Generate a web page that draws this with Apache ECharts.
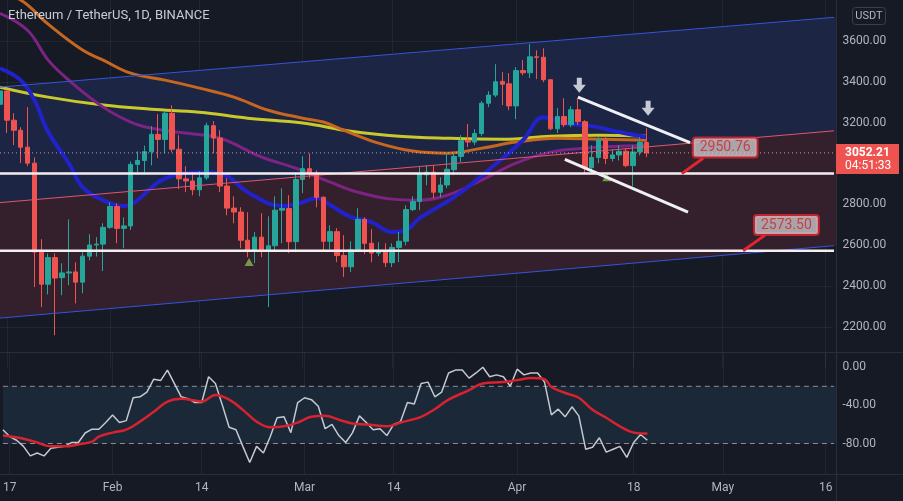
<!DOCTYPE html>
<html>
<head>
<meta charset="utf-8">
<script src="https://cdn.jsdelivr.net/npm/echarts@6/dist/echarts.min.js"></script>
<style>
html,body{margin:0;padding:0;background:#161a25;}
#chart{width:903px;height:501px;}
</style>
</head>
<body>
<div id="chart"></div>
<script>
// days on the axis: Jan 16 2022 .. May 17 2022 (candles stop at Apr 20)
const startDay = Date.UTC(2022, 0, 16)
const dayCount = 122
const dates = []
for (let i = 0; i < dayCount; i++) {
    dates.push(new Date(startDay + i * 86400000).toISOString().slice(0, 10))
}
const tickLabels = {
    '2022-01-17': '17', '2022-02-01': 'Feb', '2022-02-14': '14', '2022-03-01': 'Mar',
    '2022-03-14': '14', '2022-04-01': 'Apr', '2022-04-18': '18', '2022-05-01': 'May', '2022-05-16': '16'
}

// [open, close, low, high]
const candles = [
    [3290,3355,3260,3380],[3355,3212,3150,3362],[3212,3163,3090,3246],[3163,3080,3002,3178],
    [3080,3002,2987,3276],[3002,2567,2396,3030],[2567,2410,2298,2630],[2410,2540,2360,2560],
    [2540,2440,2160,2560],[2442,2465,2356,2512],[2465,2470,2405,2727],[2470,2420,2316,2517],
    [2420,2547,2366,2566],[2547,2602,2527,2654],[2602,2606,2545,2640],[2606,2688,2474,2708],
    [2688,2790,2680,2810],[2790,2683,2610,2806],[2683,2695,2586,2737],[2695,2996,2675,3010],
    [2996,3015,2957,3060],[3015,3058,2957,3087],[3058,3143,2991,3183],[3143,3118,3026,3242],
    [3118,3246,3050,3256],[3246,3070,3055,3285],[3070,2925,2875,3139],[2925,2915,2860,2987],
    [2915,2872,2845,2958],[2872,2930,2840,2962],[2930,3185,2920,3200],[3185,3125,3050,3208],
    [3125,2890,2860,3163],[2890,2782,2747,2928],[2782,2763,2708,2840],[2763,2625,2586,2786],
    [2625,2570,2542,2762],[2570,2640,2513,2665],[2640,2578,2542,2757],[2578,2598,2298,2742],
    [2598,2772,2576,2840],[2772,2780,2610,2879],[2780,2618,2562,2845],[2618,2922,2567,2958],
    [2922,2975,2855,3036],[2975,2950,2928,3050],[2950,2835,2786,2967],[2835,2620,2576,2840],
    [2620,2667,2581,2698],[2667,2550,2518,2684],[2550,2495,2445,2650],[2495,2578,2469,2620],
    [2578,2727,2567,2781],[2727,2610,2557,2737],[2610,2562,2518,2679],[2562,2570,2547,2615],
    [2570,2515,2494,2610],[2515,2590,2494,2610],[2590,2620,2518,2665],[2620,2775,2600,2796],
    [2775,2815,2767,2840],[2815,2950,2772,2982],[2945,2958,2894,2992],[2958,2860,2830,2992],
    [2860,2895,2835,2933],[2895,2972,2880,3046],[2970,3035,2943,3050],[3035,3112,3007,3139],
    [3114,3105,3080,3193],[3105,3147,3090,3168],[3147,3295,3134,3305],[3295,3335,3276,3354],
    [3335,3400,3325,3486],[3402,3388,3286,3447],[3390,3282,3261,3442],[3282,3455,3217,3472],
    [3455,3444,3432,3506],[3444,3522,3418,3584],[3522,3520,3413,3554],[3520,3410,3398,3564],
    [3410,3170,3163,3413],[3170,3230,3149,3271],[3230,3190,3178,3320],[3190,3263,3178,3281],
    [3263,3205,3188,3320],[3205,2980,2953,3212],[2980,3030,2948,3090],[3030,3118,3002,3129],
    [3118,3025,2997,3134],[3025,3042,3010,3070],[3042,3060,3015,3090],[3060,2990,2982,3075],
    [2990,3057,2889,3090],[3057,3103,3040,3129],[3103,3052.21,3031,3173]
]
const lastPrice = 3052.21
const countdown = '04:51:33'

// moving averages, read at sample days: [dayIndex, price]
const maYellow = [[0,3374],[7,3325],[15,3286],[22,3266],[29,3251],[36,3222],[44,3198],[51,3158],
    [58,3134],[65,3124],[73,3119],[80,3134],[87,3139],[94,3134]]
const maOrange = [[0,3825],[3,3800],[7,3682],[12,3555],[15,3506],[19,3442],[24,3408],[29,3369],
    [34,3325],[39,3261],[44,3222],[47,3203],[50,3163],[55,3100],[60,3061],[65,3051],[70,3075],
    [75,3105],[81,3124],[87,3119],[94,3114]]
const maPurple = [[0,3735],[4,3652],[7,3506],[10,3408],[15,3276],[19,3203],[22,3173],[27,3149],
    [32,3124],[38,3032],[43,2977],[48,2909],[52,2860],[57,2826],[61,2821],[65,2845],[70,2919],
    [75,3002],[80,3056],[85,3075],[90,3085],[94,3090]]
const maBlue = [[0,3466],[3,3408],[5,3310],[7,3154],[10,3002],[12,2885],[15,2821],[18,2792],
    [20,2821],[23,2909],[26,2948],[30,2958],[33,2938],[36,2860],[41,2792],[44,2811],[46,2831],
    [48,2797],[51,2738],[54,2714],[57,2665],[59,2674],[61,2733],[66,2836],[71,2968],[76,3114],
    [79,3227],[82,3198],[86,3183],[90,3154],[94,3129]]

// drawings: [dayIndex, price]
const channelUpper = [[0,3374],[121.5,3716]]
const channelMid = [[0,2809],[121.5,3161]]
const channelLower = [[0,2244],[121.5,2599]]
const supportLevels = [2950.76, 2573.50]
const wedgeUpper = [[84,3325],[100.3,3102]]
const wedgeLower = [[82.1,3021],[100,2762]]
const downArrows = [[84.2,3383],[94.2,3271]]
const buySignals = [[36.2,2518],[88.2,2933]]
const callouts = [
    {text: '2950.76', anchor: [99.1,2950.76], tip: [102.2,3026], box: [105.4,3078]},
    {text: '2573.50', anchor: [108,2573.5], tip: [111.2,2650], box: [114.3,2699]}
]

// oscillator pane
const oscLine = [
    -65.5,-72.7,-76.6,-83,-93,-90,-93,-85,-84,-83,
    -79,-79,-69,-65,-65,-58,-50,-58,-56,-32,
    -31,-26,-12.5,-14,-3,-17,-31,-33,-37,-37,
    -10,-17,-39.5,-63,-65.5,-83,-100,-83,-90,-72.7,
    -53,-52,-68.6,-37,-32,-34,-41,-64.5,-60,-71.7,
    -79,-68.6,-51,-58,-65.5,-64.5,-71.7,-60,-57,-37,
    -38.5,-17,-15.6,-31,-26,-6,-3,-3,-11.4,-6,
    0,-10,-8,-10,-20,-2,-8,-6,-6,-15.6,
    -50,-44,-52,-41.5,-51,-86,-84,-74,-89,-86,
    -83,-94.5,-79,-70.6,-76.6
]
const oscSignal = [[0,-71.7],[3,-75],[5,-79],[7,-83],[9,-83],[11,-81],[13,-78],[14,-72.7],[16,-68.6],
    [18,-65.5],[20,-57],[22,-46.8],[24,-36],[26,-33],[28,-35],[29,-36],[31,-29],[33,-34],[35,-44.7],
    [37,-57],[39,-63],[41,-62],[43,-58],[45,-52],[47,-51],[49,-55],[51,-59],[53,-60],[56,-62],
    [58,-58],[61,-52],[63,-44],[65,-34],[68,-24],[70,-17],[73,-15.6],[75,-13.5],[77,-11.4],[79,-12.5],
    [80,-20.8],[82,-27],[84,-32],[86,-44.7],[88,-53],[90,-62],[92,-68.6],[94,-69.6]]
const oscBand = [-20, -80]
const oscTicks = [0, -40, -80]

const font = 'Roboto, "Noto Sans", sans-serif'
const textColor = '#b2b5be'
const gridLine = 'rgba(255,255,255,0.055)'
const lastX = 121.5
const isTick = (i, v) => tickLabels[v] !== undefined

function bandSeries(items, colors, xi, yi) {
    return {
        type: 'custom', xAxisIndex: xi, yAxisIndex: yi, clip: false, silent: true, z: 0,
        data: items,
        renderItem: function (params, api) {
            const a = api.coord([api.value(0), api.value(1)])
            const b = api.coord([api.value(3), api.value(4)])
            const c = api.coord([api.value(3), api.value(5)])
            const d = api.coord([api.value(0), api.value(2)])
            return {type: 'polygon', shape: {points: [a, b, c, d]}, style: {fill: colors[params.dataIndex]}}
        }
    }
}
function segLine(data, color, width, type, xi, yi, z) {
    return {
        type: 'line', xAxisIndex: xi, yAxisIndex: yi, data: data, symbol: 'none', clip: false,
        silent: true, z: z, lineStyle: {color: color, width: width, type: type || 'solid'}
    }
}
function maLine(data, color, width) {
    return {
        type: 'line', xAxisIndex: 0, yAxisIndex: 0, data: data, smooth: 0.4, symbol: 'none',
        silent: true, z: 1, lineStyle: {color: color, width: width}
    }
}

const channelBands = [
    [channelUpper[0][0], channelUpper[0][1], channelMid[0][1], channelUpper[1][0], channelUpper[1][1], channelMid[1][1]],
    [channelMid[0][0], channelMid[0][1], channelLower[0][1], channelMid[1][0], channelMid[1][1], channelLower[1][1]]
]
const oscBandItem = [[0, oscBand[0], oscBand[1], lastX, oscBand[0], oscBand[1]]]

const series = [
    bandSeries(channelBands, ['#1c2543', '#34202c'], 2, 0),
    maLine(maYellow, '#c9c92b', 3),
    maLine(maOrange, '#c6661f', 3),
    maLine(maPurple, '#7c2383', 3),
    maLine(maBlue, '#2222cc', 4),
    {
        type: 'candlestick', xAxisIndex: 0, yAxisIndex: 0, data: candles, barWidth: 5, z: 2,
        itemStyle: {color: '#26a69a', color0: '#ef5350', borderColor: '#26a69a', borderColor0: '#ef5350', borderWidth: 1}
    },
    segLine(channelUpper, '#3355dd', 1, 'solid', 2, 0, 3),
    segLine(channelLower, '#3355dd', 1, 'solid', 2, 0, 3),
    segLine(channelMid, '#e0566f', 1, 'solid', 2, 0, 3),
    segLine([[0, lastPrice], [lastX, lastPrice]], 'rgba(225,200,210,0.75)', 1, [1, 3], 2, 0, 3),
    segLine([[0, supportLevels[0]], [lastX, supportLevels[0]]], '#f4eef1', 2.5, 'solid', 2, 0, 4),
    segLine([[0, supportLevels[1]], [lastX, supportLevels[1]]], '#f4eef1', 2.5, 'solid', 2, 0, 4),
    segLine(wedgeUpper, '#eef0f6', 3, 'solid', 2, 0, 4),
    segLine(wedgeLower, '#eef0f6', 3, 'solid', 2, 0, 4),
    {
        type: 'scatter', xAxisIndex: 2, yAxisIndex: 0, data: buySignals, symbol: 'triangle',
        symbolSize: [9, 8], silent: true, z: 3, itemStyle: {color: '#86b84a'}
    },
    {
        type: 'scatter', xAxisIndex: 2, yAxisIndex: 0, data: downArrows, silent: true, z: 5,
        symbol: 'path://M4,0 L9,0 L9,7 L13,7 L6.5,15 L0,7 L4,7 Z', symbolSize: [13, 15],
        itemStyle: {color: '#f2f4fa'}
    }
]
callouts.forEach(function (c) {
    series.push(segLine([c.anchor, c.tip], '#e0262f', 3, 'solid', 2, 0, 5))
    series.push({
        type: 'scatter', xAxisIndex: 2, yAxisIndex: 0, silent: true, z: 6, symbolSize: 1,
        itemStyle: {color: 'transparent'},
        data: [{value: c.box, name: c.text}],
        label: {
            show: true, position: 'inside', formatter: '{b}', color: '#d5232b', fontSize: 14,
            fontFamily: font, backgroundColor: '#c5c5cb', borderColor: '#e0262f', borderWidth: 2,
            borderRadius: 2, padding: [2, 6]
        }
    })
})
series.push(
    bandSeries(oscBandItem, ['#1b2837'], 3, 1),
    segLine([[0, oscBand[0]], [lastX, oscBand[0]]], '#8a8d96', 1, [5, 4], 3, 1, 1),
    segLine([[0, oscBand[1]], [lastX, oscBand[1]]], '#8a8d96', 1, [5, 4], 3, 1, 1),
    {
        type: 'line', xAxisIndex: 1, yAxisIndex: 1, data: oscLine, symbol: 'none', silent: true, z: 2,
        lineStyle: {color: '#c5c8d0', width: 1.5}
    },
    {
        type: 'line', xAxisIndex: 1, yAxisIndex: 1, data: oscSignal, smooth: 0.4, symbol: 'none', silent: true, z: 3,
        lineStyle: {color: '#d8222f', width: 2.5}
    }
)

const chart = echarts.init(document.getElementById('chart'))
const option = {
    backgroundColor: '#161a25',
    animation: false,
    textStyle: {fontFamily: font},
    grid: [
        {left: 0, right: 70.5, top: 0, height: 368},
        {left: 0, right: 70.5, top: 352, height: 122}
    ],
    xAxis: [
        {
            type: 'category', gridIndex: 0, data: dates, boundaryGap: false,
            axisLine: {show: false}, axisTick: {show: false}, axisLabel: {show: false},
            splitLine: {show: true, interval: isTick, lineStyle: {color: gridLine}}
        },
        {
            type: 'category', gridIndex: 1, data: dates, boundaryGap: false,
            axisLine: {show: false}, axisTick: {show: false},
            axisLabel: {
                interval: isTick, formatter: function (v) { return tickLabels[v] || '' },
                color: textColor, fontSize: 12, fontFamily: font, margin: 8
            },
            splitLine: {show: true, interval: isTick, lineStyle: {color: gridLine}}
        },
        {type: 'value', gridIndex: 0, min: 0, max: dayCount - 1, show: false},
        {type: 'value', gridIndex: 1, min: 0, max: dayCount - 1, show: false}
    ],
    yAxis: [
        {
            type: 'value', gridIndex: 0, position: 'right', min: 2000, max: 3800, interval: 200,
            axisLine: {show: false}, axisTick: {show: false},
            axisLabel: {
                color: textColor, fontSize: 12, fontFamily: font, margin: 10,
                showMinLabel: false, showMaxLabel: false,
                formatter: function (v) { return v.toFixed(2) }
            },
            splitLine: {show: true, showMinLine: false, showMaxLine: false, lineStyle: {color: gridLine}}
        },
        {
            type: 'value', gridIndex: 1, position: 'right', min: -112, max: 16, interval: 8,
            axisLine: {show: false}, axisTick: {show: false}, splitLine: {show: false},
            axisLabel: {
                color: textColor, fontSize: 12, fontFamily: font, margin: 10,
                formatter: function (v) { return oscTicks.indexOf(v) >= 0 ? v.toFixed(2) : '' }
            }
        }
    ],
    series: series,
    graphic: [
        {type: 'line', id: 'sepV', shape: {x1: 836.5, y1: 0, x2: 836.5, y2: 501}, style: {stroke: '#2a2e39', lineWidth: 1}, z: 50},
        {type: 'line', id: 'sepH1', shape: {x1: 0, y1: 352.5, x2: 903, y2: 352.5}, style: {stroke: '#2a2e39', lineWidth: 1}, z: 50},
        {type: 'line', id: 'sepH2', shape: {x1: 0, y1: 474.5, x2: 903, y2: 474.5}, style: {stroke: '#2a2e39', lineWidth: 1}, z: 50},
        {type: 'text', id: 'title', x: 8, y: 9, z: 50,
            style: {text: 'Ethereum / TetherUS, 1D, BINANCE', fill: '#c9ccd3', font: '13px ' + font}},
        {type: 'rect', id: 'unitBox', shape: {x: 852.5, y: 7.5, width: 33, height: 17, r: 3}, z: 50,
            style: {fill: '#161a25', stroke: '#3b3f4c', lineWidth: 1}},
        {type: 'text', id: 'unitText', x: 869, y: 16, z: 51,
            style: {text: 'USDT', fill: textColor, font: '11px ' + font, align: 'center', verticalAlign: 'middle'}}
    ]
}
chart.setOption(option)

// price tag on the right, placed on the last close through the axis scale
const tagY = chart.convertToPixel({yAxisIndex: 0}, lastPrice)
chart.setOption({
    graphic: [
        {type: 'rect', id: 'tagBox', shape: {x: 836, y: tagY - 9, width: 63, height: 30}, z: 60,
            style: {fill: '#ef5350'}},
        {type: 'text', id: 'tagPrice', x: 845, y: tagY, z: 61,
            style: {text: lastPrice.toFixed(2), fill: '#ffffff', font: 'bold 12px ' + font, verticalAlign: 'middle'}},
        {type: 'text', id: 'tagTime', x: 845, y: tagY + 13.5, z: 61,
            style: {text: countdown, fill: '#ffffff', font: '12px ' + font, verticalAlign: 'middle'}}
    ]
})
</script>
</body>
</html>
